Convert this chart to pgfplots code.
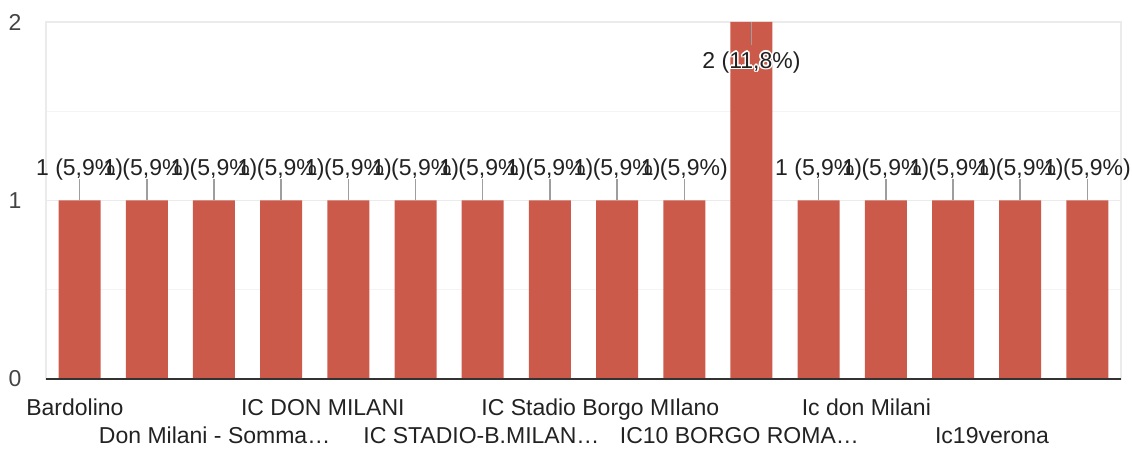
\documentclass[border=0pt]{standalone}
\usepackage{pgfplots}
\pgfplotsset{compat=1.18}
\usepackage{fontspec}
\setmainfont{Liberation Sans}
\usepackage{contour}
\contourlength{0.8pt}
\contournumber{8}
\definecolor{barred}{HTML}{CC5A4A}
\definecolor{txt}{HTML}{222222}
\definecolor{ytxt}{HTML}{444444}
\definecolor{gridc}{HTML}{EBEBEB}
\definecolor{minorc}{HTML}{F4F4F4}
\definecolor{leader}{HTML}{9E9E9E}
\newcommand{\lab}{\fontsize{11.5}{14}\selectfont}
\begin{document}
\begin{tikzpicture}
\begin{axis}[
  at={(23pt,35pt)}, anchor=south west,
  scale only axis, width=537.5pt, height=178.5pt,
  xmin=-0.5, xmax=15.5, ymin=0, ymax=2,
  ytick={0,1,2}, minor ytick={0.5,1.5},
  ymajorgrids, yminorgrids,
  major grid style={gridc, line width=0.6pt},
  minor grid style={minorc, line width=0.6pt},
  axis line style={gridc, line width=0.6pt},
  major tick length=0pt, minor tick length=0pt,
  xtick={-0.07,2.01,3.62,5.98,7.75,9.82,11.71,13.58},
  xticklabels={
    {\strut Bardolino\\\strut},
    {\strut\\\strut Don Milani - Somma…},
    {\strut IC DON MILANI\\\strut},
    {\strut\\\strut IC STADIO-B.MILAN…},
    {\strut IC Stadio Borgo MIlano\\\strut},
    {\strut\\\strut IC10 BORGO ROMA…},
    {\strut Ic don Milani\\\strut},
    {\strut\\\strut Ic19verona}},
  xticklabel style={font=\lab, text=txt, align=center, anchor=north, inner sep=0pt, yshift=-8.2pt},
  yticklabel style={font=\lab, text=ytxt, anchor=center, xshift=-15.5pt},
  /pgf/number format/assume math mode=true,
  clip=false,
]
\addplot[ybar, bar width=0.625, fill=barred, draw=none] coordinates {
  (0,1) (1,1) (2,1) (3,1) (4,1) (5,1) (6,1) (7,1)
  (8,1) (9,1) (10,2) (11,1) (12,1) (13,1) (14,1) (15,1)};
% labels and leader lines for the bars of value 1
\addplot[draw=none, mark=none,
  nodes near coords={1 (5,9\%)},
  every node near coord/.append style={anchor=base, yshift=1.8pt, inner sep=0pt, font=\lab, text=txt},
  error bars/.cd, y dir=minus, y explicit, error mark=none,
  error bar style={leader, line width=0.75pt}]
  table[x=x, y=y, y error=e] {
x y e
0 1.12 0.12
1 1.12 0.12
2 1.12 0.12
3 1.12 0.12
4 1.12 0.12
5 1.12 0.12
6 1.12 0.12
7 1.12 0.12
8 1.12 0.12
9 1.12 0.12
11 1.12 0.12
12 1.12 0.12
13 1.12 0.12
14 1.12 0.12
15 1.12 0.12
};
% label of the bar of value 2, set inside the plot
\addplot[draw=none, mark=none,
  nodes near coords={\contour{white}{2 (11,8\%)}},
  every node near coord/.append style={anchor=base, yshift=-11.5pt, inner sep=0pt, font=\lab, text=txt},
  error bars/.cd, y dir=plus, y explicit, error mark=none,
  error bar style={leader, line width=0.75pt}]
  table[x=x, y=y, y error=e] {
x y e
10 1.87 0.13
};
\draw[color=black!80, line width=1pt] (axis cs:-0.5,0) -- (axis cs:15.5,0);
\end{axis}
\pgfresetboundingbox
\path (0,0) rectangle (566pt,224.5pt);
\end{tikzpicture}
\end{document}
